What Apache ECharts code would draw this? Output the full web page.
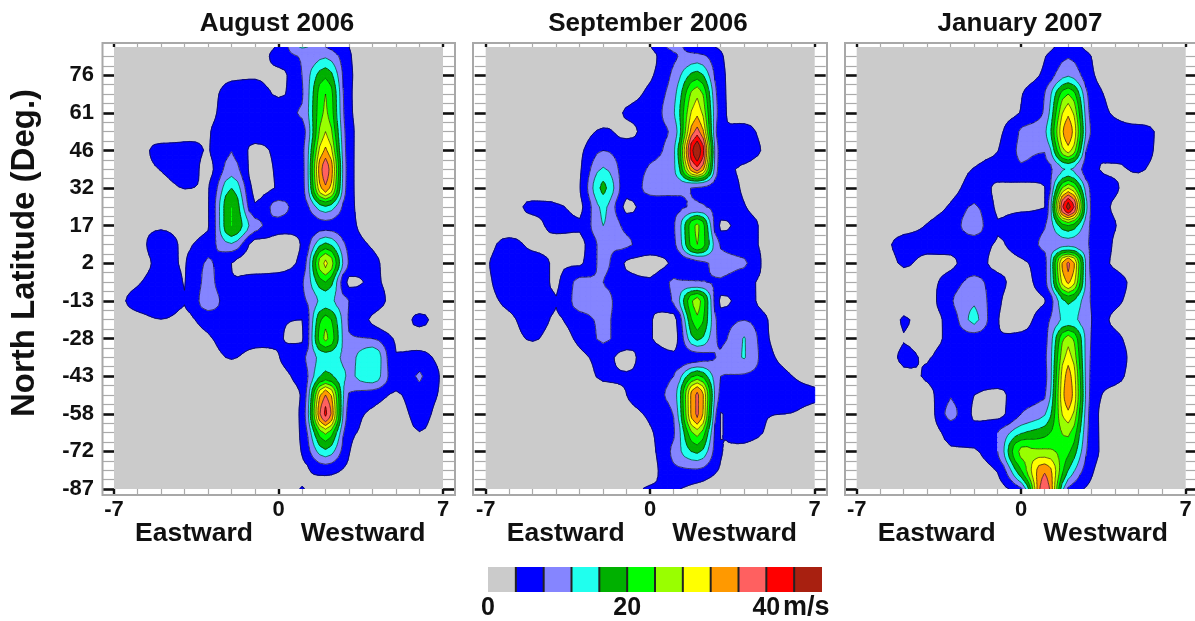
<!DOCTYPE html>
<html><head><meta charset="utf-8">
<style>html,body{margin:0;padding:0;background:#fff}#c{width:1195px;height:621px}</style>
<script src="https://cdn.jsdelivr.net/npm/echarts@6/dist/echarts.min.js"></script>
</head><body><div id="c"></div>
<script>
const titles=['August 2006','September 2006','January 2007'];
const latLabels=['-87','-72','-58','-43','-28','-13','2','17','32','46','61','76'];
const waveNumbers=[-7,-6,-5,-4,-3,-2,-1,0,1,2,3,4,5,6,7];
const levels=[0,4,8,12,16,20,24,28,32,36,40,44,48];
const colors=['#cbcbcb','#0000ff','#8585ff','#20ffee','#00b000','#00ff00','#99ff00','#ffff00','#ff9900','#ff6060','#ff0000','#a82010'];
// rows run from the top of the panel (north) to the bottom (south); columns are waveNumbers
const aug2006=[
[1,1,1,1,1,1,2,4.5,12.5,8,4,1,1,1,1],
[1,1,1,1,1,1,2,5.5,8.5,11.5,4.5,1,1,1,1],
[1,1,1,1,1,3,3.5,3,8,19,4.6,2,1,1,1],
[1,1,1,1,2,6,6,3.5,7.5,24,4.5,2,1,1,1],
[1,1,1,1,2.5,6.5,7,7,8.5,25,4.6,2,1,1,1],
[1,1,1,2,3.6,7,6.5,6.5,6,28,5,2,1,1,1],
[1,2,5.5,5.5,3.8,7.9,2.8,5,6.5,33,5,2,1,1,1],
[1,2,4.2,6,3,10,2.5,4.5,6,39,5,2,1,1,1],
[1,1,2,4.1,3.7,16,2.8,4.3,6,35,5,2,1,1,1],
[1,1,1,2,3.7,20,4.5,9.5,6,15.5,5,2,1,1,1],
[1,2.5,3.3,2.5,3.7,20,9.5,6,5,7,5,2,1,1,1],
[1,2.5,6,3.5,6,11.5,2.5,2.5,4.2,17,6.5,3.5,1,1,1],
[1,2,5,3.8,8.5,4,2,2.5,5,29,7.5,5,2,1,1],
[1,3.5,6,3.9,9,4.2,5.5,5.5,7.5,20,3,4.5,2.5,1,1],
[2,5.5,6.5,4.1,10,6,6,5.5,7,13.5,8,6,2.5,1,1],
[1,2.5,3.9,3,5.5,6,6,4.2,4,22,7.5,3.5,1,5,1],
[1,1,1,2,3.5,6,5.5,4.2,3.5,25,8.5,8,3.5,2,1],
[1,1,1,1,2,4.3,2.5,3.9,7,14,11,15.5,4.2,5.5,2],
[1,1,1,1,1,1.5,2,3,5.5,17.5,11.5,14.5,5.5,8.3,3],
[1,1,1,1,1,1,1,2.5,4.2,36,7.5,6,3.5,6.5,3],
[1,1,1,1,1,1,1,2,4.5,41,5.5,3.5,2,5.5,1.5],
[1,1,1,1,1,1,1,1.5,4.5,25,4.8,3,1,3.9,1],
[1,1,1,1,1,1,1,1,4.2,15,4.2,1,1,1,1],
[1,1,1,1,1,1,1,1,3,5.5,3,1,1,1,1],
[1,1,1,1,1,1,1,1,4.2,1,1,1,1,1,1]];
const sep2006=[
[1,1,1,1,1,1,2,3.8,9,5.5,3.5,1,1,1,1],
[1,1,1,1,1,1,2,3,7.5,9.5,4.5,1,1,1,1],
[1,1,1,1,1,1,2,3.5,9,18,4.8,2,1,1,1],
[1,1,1,1,1,1,2.5,5,10.5,27,5,2,1,1,1],
[1,1,1,1,1,2,4.4,6,11.5,31,5.2,2,1,1,1],
[1,1,1,1,2,4.6,3,6,9,38,4,5.5,2,1,1],
[1,1,1,1,3.2,8,6,6.5,11,48,5,6,3,1,1],
[1,1,1,1,3.5,12.5,6,8.5,11,38,5,3.5,1,1,1],
[1,1,1,1,3.8,17,5.5,9,9,7.5,6,3.5,1,1,1],
[1,2,5,4.5,3.2,13,3,6,7,8.5,6.5,4.2,2,1,1],
[1,1,2.5,5,4.4,12,7,6,7.5,25,3.3,5,3,1,1],
[2,5.5,3,2.5,3,9,8.5,6,7,24,7.5,5.5,3,1,1],
[3.5,6,6,3.5,3.5,9,3.5,2.5,4.5,6.5,9,8.5,2.5,1,1],
[3,6,6,3.5,9,8,5,4.3,8.5,8.2,7.5,5,3,1,1],
[2,5.2,6.5,4.1,9.5,9.5,5,4.5,8.5,26,3.2,5,2.5,1,1],
[1,3,6,3.5,6.5,8.5,6,4.2,2.5,23,6,7.9,4,1,1],
[1,2,4.5,2,5,8.5,6,4.2,2.5,17,7,12.2,4.2,2,1],
[1,1,1,1,3,5,2.8,6,5,6.5,8.5,12.2,5,2.5,1],
[1,1,1,1,2,4.5,4.2,6,8,21,8,7.5,6,4.1,2],
[1,1,1,1,1,2,4,6.5,9.5,37,6.5,6,6.5,5.5,5],
[1,1,1,1,1,1,2.5,4.8,8.2,37,3.9,5.5,4.2,3.9,2],
[1,1,1,1,1,1,1,3.6,7.5,26,3.9,5.5,3.5,1,1],
[1,1,1,1,1,1,1,3,9,17,4.2,2.5,1,1,1],
[1,1,1,1,1,1,1,2.5,7,7.5,3.5,1,1,1,1],
[1,1,1,1,1,1,2,4.5,4.3,2.5,1,1,1,1,1]];
const jan2007=[
[1,1,1,1,1,1,1,1,2.5,5.5,2.5,1,1,1,1],
[1,1,1,1,1,1,1,1,3.8,7.7,3.9,1,1,1,1],
[1,1,1,1,1,1,1,2,4.8,11.5,4.4,2,1,1,1],
[1,1,1,1,1,1,1,3.8,8,24,5.5,3,1,1,1],
[1,1,1,1,1,1,2,4.2,8.5,31,6,3.5,1,1,1],
[1,1,1,1,1,1,3,8.5,11,35,7,5.5,5.5,3,1],
[1,1,1,1,1,2,3.9,8.5,8.2,30,4.2,5.5,5.5,2.8,1],
[1,1,1,1,2,4.2,5.5,7.5,6.5,12.5,4.5,3.5,4.4,2,1],
[1,1,1,1,2.5,5.5,3.5,3,3.9,28,6.5,4.4,2,1,1],
[1,1,1,2,4.5,8.5,3.5,3.5,3.9,46,6.5,3.5,1,1,1],
[1,1,2.5,4.2,6,10,4.2,5.5,7.7,20,7,4.1,2,1,1],
[1,2.4,5.2,5,5,6,3.7,5.5,8.8,10.5,7.5,3.5,1,1,1],
[1,1,4.5,3,3.5,5.5,3,3.5,6.5,37,6,3.5,1,1,1],
[1,1,2,3,5.5,9.5,5,3,6.5,33,7,5.5,2.5,1,1],
[1,1,2,2.5,7.5,11.5,4.5,2.5,3.8,17,7.5,5,2,1,1],
[1,1,4.3,2.5,5.5,13,4.1,2.8,6.5,13.5,8,3,1,1,1],
[1,1,3.9,2.5,5,6.5,4.1,4.8,6.5,26,7.5,5,2,1,1],
[1,1,4.6,3.7,6.5,6.5,4,6.5,7,30,7,5.5,2.5,1,1],
[1,1,3,4.4,7,7,6.5,7,6.5,34,6.5,5.2,2,1,1],
[1,1,1,2.5,7.8,4,3,6.5,7.5,35,6,2.5,1,1,1],
[1,1,1,2,9,3.5,3,8,11.5,31,5.5,2,1,1,1],
[1,1,1,1.5,5.2,5,8,15.5,18.5,25,5.5,2,1,1,1],
[1,1,1,1,3.5,3.7,8,25,25,21,5.5,2,1,1,1],
[1,1,1,1,1,2,4.3,20,35,16,4.5,1,1,1,1],
[1,1,1,1,1,1,2.5,7,40,7,3,1,1,1,1]];
const panelData=[aug2006,sep2006,jan2007];

const FONT='"Liberation Sans",Arial,sans-serif';
const lefts=[114,485.7,856.7], frames=[[102.5,455],[473,827],[845,1198]];
const titleCentres=[277,648,1020];
const PW=329, TOP=47, PH=442;
const SUB=4;
function rowPos(i){return i>=24?11.75:i*0.5;}

// contour refinement: shape-preserving curve through the values
function refine(a){
  const n=a.length,d=[],m=[],out=[];
  for(let i=0;i<n-1;i++)d.push(a[i+1]-a[i]);
  m[0]=d[0];m[n-1]=d[n-2];
  for(let i=1;i<n-1;i++)m[i]=d[i-1]*d[i]<=0?0:2*d[i-1]*d[i]/(d[i-1]+d[i]);
  for(let i=0;i<n-1;i++)for(let s=0;s<SUB;s++){
    const t=s/SUB,t2=t*t,t3=t2*t;
    out.push((2*t3-3*t2+1)*a[i]+(t3-2*t2+t)*m[i]+(-2*t3+3*t2)*a[i+1]+(t3-t2)*m[i+1]);
  }
  out.push(a[n-1]);
  return out;
}
function cellsOf(rows){
  const south=rows.slice().reverse().map(refine);
  const W=south[0].length,cols=[];
  for(let j=0;j<W;j++)cols.push(refine(south.map(r=>r[j])));
  const H=cols[0].length,out=[];
  const xAt=j=>waveNumbers[0]+j/SUB*(waveNumbers[1]-waveNumbers[0]);
  const yAt=i=>{const k=Math.min(Math.floor(i/SUB),23),f=i/SUB-k;return rowPos(k)+f*(rowPos(k+1)-rowPos(k));};
  for(let i=0;i<H-1;i++)for(let j=0;j<W-1;j++){
    out.push([xAt(j),yAt(i),xAt(j+1),yAt(i+1),cols[j][i],cols[j+1][i],cols[j][i+1],cols[j+1][i+1]]);
  }
  return out;
}
function clipTri(poly,level,keepAbove){
  const out=[];
  for(let k=0;k<poly.length;k++){
    const a=poly[k],b=poly[(k+1)%poly.length];
    const ia=keepAbove?a[2]>=level:a[2]<=level, ib=keepAbove?b[2]>=level:b[2]<=level;
    if(ia)out.push(a);
    if(ia!==ib){const t=(level-a[2])/(b[2]-a[2]);out.push([a[0]+t*(b[0]-a[0]),a[1]+t*(b[1]-a[1]),level]);}
  }
  return out;
}
function cellTris(v){
  const [x0,y0,x1,y1,a,b,c,d]=v;
  const m=[(x0+x1)/2,(y0+y1)/2,(a+b+c+d)/4];
  const A=[x0,y0,a],B=[x1,y0,b],C=[x0,y1,c],D=[x1,y1,d];
  return [[A,B,m],[B,D,m],[D,C,m],[C,A,m]];
}
function readCell(api){const v=[];for(let i=0;i<8;i++)v.push(api.value(i));return v;}
const bandOf=x=>Math.max(0,Math.min(Math.floor(x/4),colors.length-1));
function fillRender(params,api){
  const v=readCell(api),vals=v.slice(4),mn=Math.min(...vals),mx=Math.max(...vals);
  const children=[];
  const pts=p=>p.map(q=>api.coord([q[0],q[1]]));
  if(bandOf(mn)===bandOf(mx)){
    if(bandOf(mn)===0)return null;
    const c=colors[bandOf(mn)];
    return {type:'polygon',shape:{points:pts([[v[0],v[1]],[v[2],v[1]],[v[2],v[3]],[v[0],v[3]]])},style:{fill:c,stroke:c,lineWidth:0.9}};
  }
  cellTris(v).forEach(t=>{
    for(let k=1;k<colors.length;k++){
      let p=clipTri(t,levels[k],true);
      if(p.length<3)continue;
      if(k<colors.length-1)p=clipTri(p,levels[k+1],false);
      if(p.length<3)continue;
      children.push({type:'polygon',shape:{points:pts(p)},style:{fill:colors[k],stroke:colors[k],lineWidth:0.9}});
    }
  });
  return {type:'group',children};
}
function lineRender(params,api){
  const v=readCell(api),vals=v.slice(4);
  if(bandOf(Math.min(...vals))===bandOf(Math.max(...vals)))return null;
  const children=[];
  cellTris(v).forEach(t=>{
    for(let k=1;k<colors.length;k++){
      const L=levels[k]+1e-6,seg=[];
      for(let e=0;e<3;e++){
        const a=t[e],b=t[(e+1)%3];
        if((a[2]-L)*(b[2]-L)<0){const r=(L-a[2])/(b[2]-a[2]);seg.push([a[0]+r*(b[0]-a[0]),a[1]+r*(b[1]-a[1])]);}
      }
      if(seg.length===2){
        const p=api.coord(seg[0]),q=api.coord(seg[1]);
        children.push({type:'line',shape:{x1:p[0],y1:p[1],x2:q[0],y2:q[1]},style:{stroke:'rgba(20,20,20,0.72)',lineWidth:0.9}});
      }
    }
  });
  return {type:'group',children};
}
const grids=[],xAxes=[],yAxes=[],series=[],graphic=[],titleCfg=[];
lefts.forEach((left,n)=>{
  grids.push({left,top:TOP,width:PW,height:PH,show:true,backgroundColor:colors[0],borderWidth:0});
  const g=grids.length-1;
  const xCommon={type:'value',gridIndex:g,min:-7,max:7,interval:7,splitLine:{show:false},axisLine:{show:false,onZero:false}};
  xAxes.push(Object.assign({},xCommon,{position:'bottom',
    axisTick:{show:true,length:6,lineStyle:{color:'#111',width:2.4}},
    minorTick:{show:true,splitNumber:7,length:6,lineStyle:{color:'#aaa',width:1.2}},
    axisLabel:{show:true,margin:10,color:'#111',fontFamily:FONT,fontWeight:'bold',fontSize:22,formatter:v=>String(v)}}));
  xAxes.push(Object.assign({},xCommon,{position:'top',
    axisTick:{show:true,length:4,lineStyle:{color:'#111',width:2.4}},
    minorTick:{show:true,splitNumber:7,length:4,lineStyle:{color:'#aaa',width:1.2}},
    axisLabel:{show:false}}));
  const yCommon={type:'value',gridIndex:g,min:0,max:11.75,interval:1,splitLine:{show:false},axisLine:{show:false,onZero:false},
    axisTick:{show:true,length:11,customValues:latLabels.map((t,i)=>i),lineStyle:{color:'#111',width:2.6}},
    minorTick:{show:true,splitNumber:4,length:11,lineStyle:{color:'#aaa',width:1.2}}};
  yAxes.push(Object.assign({},yCommon,{position:'left',
    axisLabel:{show:n===0,margin:20,color:'#111',fontFamily:FONT,fontWeight:'bold',fontSize:22,
      formatter:v=>Number.isInteger(v)&&latLabels[v]!==undefined?latLabels[v]:''}}));
  yAxes.push(Object.assign({},yCommon,{position:'right',axisLabel:{show:false}}));
  const xi=xAxes.length-2, yi=yAxes.length-2;
  const data=cellsOf(panelData[n]);
  series.push({type:'custom',xAxisIndex:xi,yAxisIndex:yi,coordinateSystem:'cartesian2d',renderItem:fillRender,data,clip:true,silent:true,z:2,animation:false,progressive:0,encode:{x:[0,2],y:[1,3]}});
  series.push({type:'custom',xAxisIndex:xi,yAxisIndex:yi,coordinateSystem:'cartesian2d',renderItem:lineRender,data,clip:true,silent:true,z:3,animation:false,progressive:0,encode:{x:[0,2],y:[1,3]}});
  titleCfg.push({text:titles[n],left:titleCentres[n],top:11,padding:0,textAlign:'center',textStyle:{fontFamily:FONT,fontWeight:'bold',fontSize:26,color:'#111'}});
  graphic.push({type:'rect',silent:true,z:10,shape:{x:frames[n][0],y:43,width:frames[n][1]-frames[n][0],height:452},style:{fill:'none',stroke:'#a8a8a8',lineWidth:2}});
  [['Eastward',left+80],['Westward',left+249]].forEach(([t,x])=>{
    graphic.push({type:'text',silent:true,style:{text:t,x,y:534,align:'center',verticalAlign:'middle',fill:'#111',font:'bold 26.5px '+FONT}});
  });
});
graphic.push({type:'text',silent:true,x:25,y:253,rotation:Math.PI/2,style:{text:'North Latitude (Deg.)',x:0,y:0,align:'center',verticalAlign:'middle',fill:'#111',font:'bold 33px '+FONT}});
// colour key
grids.push({left:488,top:567,width:334,height:26,show:false});
const kg=grids.length-1;
xAxes.push({type:'value',gridIndex:kg,min:0,max:48,interval:4,splitLine:{show:false},axisLine:{show:false},axisTick:{show:false},
  axisLabel:{show:true,margin:4,color:'#111',fontFamily:FONT,fontWeight:'bold',fontSize:25,hideOverlap:false,
    formatter:v=>(v===0||v===20||v===40)?String(v):''}});
yAxes.push({type:'value',gridIndex:kg,min:0,max:1,show:false});
series.push({type:'custom',xAxisIndex:xAxes.length-1,yAxisIndex:yAxes.length-1,coordinateSystem:'cartesian2d',silent:true,animation:false,z:2,progressive:0,
  data:colors.map((c,k)=>[levels[k],levels[k+1]]),encode:{x:[0,1]},
  renderItem(params,api){
    const k=params.dataIndex,a=api.coord([api.value(0),0]),b=api.coord([api.value(1),1]);
    const ch=[{type:'rect',shape:{x:a[0],y:b[1],width:b[0]-a[0],height:a[1]-b[1]},style:{fill:colors[k]}}];
    if(k>0)ch.push({type:'line',shape:{x1:a[0],y1:a[1],x2:a[0],y2:b[1]},style:{stroke:'#222',lineWidth:2}});
    return {type:'group',children:ch};
  }});
graphic.push({type:'text',silent:true,style:{text:'m/s',x:783,y:608,align:'left',verticalAlign:'middle',fill:'#111',font:'bold 27px '+FONT}});
const chart=echarts.init(document.getElementById('c'),null,{renderer:'canvas'});
chart.setOption({animation:false,backgroundColor:'#fff',title:titleCfg,grid:grids,xAxis:xAxes,yAxis:yAxes,series,graphic:{elements:graphic}});
</script></body></html>
